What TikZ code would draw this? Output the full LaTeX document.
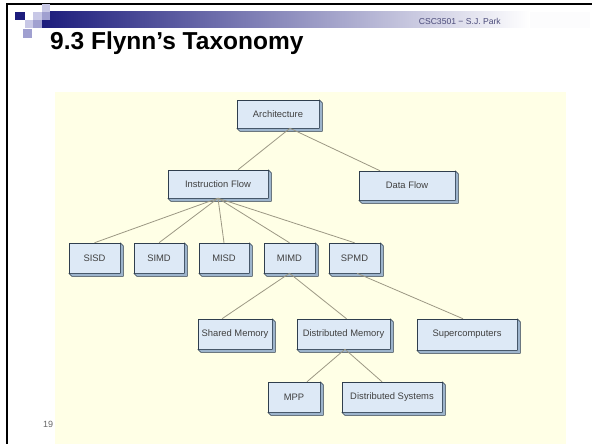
\documentclass[tikz,border=0pt]{standalone}
\usepackage{fontspec}
\setmainfont{Liberation Sans}
\usetikzlibrary{calc}
\definecolor{panel}{HTML}{FFFFE6}
\definecolor{boxface}{HTML}{DDE9F6}
\definecolor{boxside}{HTML}{9DB4CC}
\definecolor{boxline}{HTML}{2F3E4E}
\definecolor{conn}{HTML}{9C9884}
\definecolor{navy}{HTML}{1C1C7C}
\definecolor{lav}{HTML}{C8C8E6}
\definecolor{midlav}{HTML}{A0A0D0}
\definecolor{hdr}{HTML}{4B4B7A}
\definecolor{txt}{HTML}{404040}
\tikzset{
  box/.style={draw=boxline, fill=boxface, line width=0.5pt, inner sep=0pt,
    font=\fontsize{9.4}{10}\selectfont, text=txt},
  side/.style={draw=boxline, fill=boxside, line width=0.5pt, line join=round},
  link/.style={draw=conn, line width=0.8pt},
  sq/.style={draw=none}
}
\begin{document}
\begin{tikzpicture}[x=1pt,y=-1pt]
\useasboundingbox (0,0) rectangle (592,444);
\fill[white] (0,0) rectangle (592,444);
% frame
\fill[black] (6,3) rectangle (592,5);
\fill[black] (6,3) rectangle (8,444);
% header bar
\shade[left color=navy, right color=white] (42,12) rectangle (530,28);
\fill[white!94!lav] (530,12) rectangle (590,28);
% decorative squares
\fill[sq, lav] (42,4.5) rectangle (50,12);
\fill[sq, navy] (15,12) rectangle (25,20);
\fill[sq, lav] (33,12) rectangle (42,20);
\fill[sq, midlav] (42,12) rectangle (50,20);
\fill[sq, lav] (25,20) rectangle (33,28);
\fill[sq, midlav] (33,20) rectangle (42,28);
\fill[sq, midlav] (23,29) rectangle (32,38);
\node[anchor=base east, font=\fontsize{8.6}{10}\selectfont, text=hdr, inner sep=0pt] (hdrtxt) at (501,25) {CSC3501 − S.J. Park};
\node[anchor=base west, font=\bfseries\fontsize{24.5}{28}\selectfont, inner sep=0pt] (title) at (50,50) {9.3 Flynn’s Taxonomy};
% panel
\fill[panel] (55,92) rectangle (566,444);
\node[anchor=base west, font=\fontsize{9}{10}\selectfont, text=txt!80, inner sep=0pt] (pg) at (43,427) {19};
% nodes
\node[box, minimum width=82pt, minimum height=28pt] (arch) at (278,114) {Architecture};
\node[box, minimum width=100pt, minimum height=28pt] (instr) at (218,184) {Instruction Flow};
\node[box, minimum width=96pt, minimum height=29pt] (data) at (407,185.5) {Data Flow};
\node[box, minimum width=51pt, minimum height=30pt] (sisd) at (94.5,258) {SISD};
\node[box, minimum width=50pt, minimum height=30pt] (simd) at (159,258) {SIMD};
\node[box, minimum width=50pt, minimum height=30pt] (misd) at (224,258) {MISD};
\node[box, minimum width=51pt, minimum height=30pt] (mimd) at (289.5,258) {MIMD};
\node[box, minimum width=51pt, minimum height=30pt] (spmd) at (354.5,258) {SPMD};
\node[box, minimum width=74pt, minimum height=30pt] (shared) at (235,334) {Shared Memory};
\node[box, minimum width=93pt, minimum height=30pt] (dmem) at (343.5,334) {Distributed Memory};
\node[box, minimum width=100pt, minimum height=31pt] (super) at (467,334.5) {Supercomputers};
\node[box, minimum width=52pt, minimum height=30pt] (mpp) at (294,397) {MPP};
\node[box, minimum width=100pt, minimum height=30pt] (dsys) at (392,397) {Distributed Systems};
% extrusions
\foreach \n in {arch,instr,data,sisd,simd,misd,mimd,spmd,shared,dmem,super,mpp,dsys}{
  \path[side] (\n.north east) -- ++(3pt,-3pt) -- ([shift={(3pt,-3pt)}]\n.south east)
    -- ([shift={(3pt,-3pt)}]\n.south west) -- (\n.south west) -- (\n.south east) -- cycle;
}
% connectors
\draw[link] ([xshift=12pt]arch.south) -- ([xshift=20pt]instr.north);
\draw[link] ([xshift=12pt]arch.south) -- ([xshift=-27pt]data.north);
\foreach \n in {sisd,simd,misd,mimd,spmd}{
  \draw[link] (instr.south) -- (\n.north);
}
\draw[link] (mimd.south) -- ([xshift=-13pt]shared.north);
\draw[link] (mimd.south) -- ([xshift=3pt]dmem.north);
\draw[link] ([xshift=2.5pt]spmd.south) -- ([xshift=-4pt]super.north);
\draw[link] ([xshift=1.5pt]dmem.south) -- ([xshift=13pt]mpp.north);
\draw[link] ([xshift=1.5pt]dmem.south) -- ([xshift=-10pt]dsys.north);
\end{tikzpicture}
\end{document}
